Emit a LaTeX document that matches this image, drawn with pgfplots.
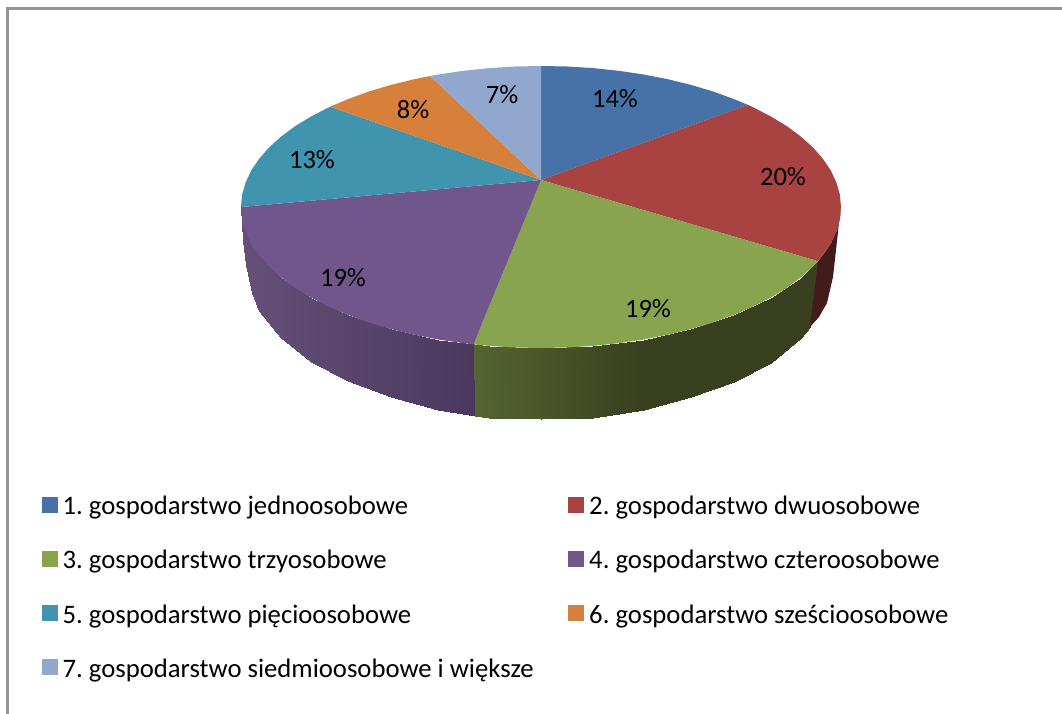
\documentclass[border=0pt]{standalone}
\usepackage{pgfplots}
\pgfplotsset{compat=1.18}
\usepackage{fontspec}
\setmainfont{Carlito}
\frenchspacing
\definecolor{c1}{HTML}{4672A8}
\definecolor{c2}{HTML}{A84342}
\definecolor{c3}{HTML}{88A44E}
\definecolor{c4}{HTML}{71568B}
\definecolor{c5}{HTML}{4094AD}
\definecolor{c6}{HTML}{D7803B}
\definecolor{c7}{HTML}{92A7CE}
\definecolor{wallred}{HTML}{421B1B}
\begin{document}
\begin{tikzpicture}
\begin{axis}[
  scale only axis, width=1062pt, height=714pt,
  xmin=0, xmax=1062, ymin=0, ymax=714, y dir=reverse,
  axis lines=none, clip=true,
  font=\fontsize{26.5}{30}\selectfont,
  colormap={wall}{rgb255(0cm)=(100,80,120); rgb255(1cm)=(75,56,94); rgb255(2cm)=(86,100,50); rgb255(3cm)=(56,64,31)},
  point meta min=0, point meta max=3,
  legend image code/.code={\fill[#1] (0pt,-5.5pt) rectangle (15pt,9.5pt); \path (18.5pt,0pt);},
  legend cell align=left,
  legend columns=2,
  legend style={at={(axis cs:41.5,492)}, anchor=north west, draw=none, fill=none,
    font=\fontsize{26.7}{30}\selectfont, row sep=30.2pt, inner xsep=0pt,
    /tikz/every even column/.style={column sep=32.5pt}},
]
% picture extent
\addplot[forget plot, draw=none] coordinates {(0,0)(1062,0)(1062,714)(0,714)};
% frame
\addplot[forget plot, draw=black!42, line width=3pt] coordinates {(7,714) (7,9) (1062,9)};
% side walls
\addplot[forget plot, patch, patch type=rectangle, shader=interp, point meta=\thisrow{c}] table[row sep=\\] {
x y c\\
241 207 0\\ 242.1 219.3 0.004\\ 243 240 0.004\\ 241 207 0\\
242.1 219.3 0.004\\ 245.6 231.5 0.02\\ 246 265 0.02\\ 243 240 0.004\\
245.6 231.5 0.02\\ 251.2 243.5 0.04\\ 252 293 0.04\\ 246 265 0.02\\
251.2 243.5 0.04\\ 259.1 255.2 0.08\\ 259 311 0.08\\ 252 293 0.04\\
259.1 255.2 0.08\\ 281.2 277.5 0.17\\ 281 338 0.17\\ 259 311 0.08\\
281.2 277.5 0.17\\ 311.2 297.6 0.30\\ 311 362 0.30\\ 281 338 0.17\\
311.2 297.6 0.30\\ 348.2 315 0.46\\ 348 381 0.46\\ 311 362 0.30\\
348.2 315 0.46\\ 391 329.1 0.64\\ 391 397 0.64\\ 348 381 0.46\\
391 329.1 0.64\\ 438.4 339.5 0.84\\ 438 409.5 0.84\\ 391 397 0.64\\
438.4 339.5 0.84\\ 473.5 344.4 1\\ 475 416 1\\ 438 409.5 0.84\\
473.5 344.4 2\\ 488.9 345.9 2.1\\ 489 417.5 2.1\\ 475 416 2\\
488.9 345.9 2.1\\ 541 348 2.4\\ 541 419 2.4\\ 489 417.5 2.1\\
541 348 2.4\\ 593.1 345.9 2.72\\ 593 417.5 2.72\\ 541 419 2.4\\
593.1 345.9 2.72\\ 643.6 339.5 3\\ 644 410 3\\ 593 417.5 2.72\\
643.6 339.5 3\\ 691 329.1 3\\ 691 397 3\\ 644 410 3\\
691 329.1 3\\ 733.8 315 3\\ 734 381.5 3\\ 691 397 3\\
733.8 315 3\\ 770.8 297.6 3\\ 771 362.5 3\\ 734 381.5 3\\
770.8 297.6 3\\ 800.8 277.5 3\\ 801 338 3\\ 771 362.5 3\\
800.8 277.5 3\\ 818 261.2 3\\ 810 327 3\\ 801 338 3\\
};
\addplot[forget plot, fill=wallred, draw=none] coordinates {(818,261.2)(822.9,255.2)(830.8,243.5)(836.4,231.5)(839.9,219.3)(841,207)(838.5,227)(836,250)(833,277)(827,303)(819,317)(810,327)};
% top faces
\addplot[forget plot, fill=c1, draw=none] coordinates {(541,180)(541,66)(567.1,66.5)(593.1,68.1)(618.6,70.8)(643.6,74.5)(667.8,79.2)(691,84.9)(713.1,91.5)(733.8,99)(747.9,104.9)};
\addplot[forget plot, fill=c2, draw=none] coordinates {(541,180)(747.9,104.9)(753.1,107.3)(770.8,116.4)(786.8,126.1)(800.8,136.5)(812.9,147.4)(822.9,158.8)(830.8,170.5)(836.4,182.5)(839.9,194.7)(841,207)(839.9,219.3)(836.4,231.5)(830.8,243.5)(822.9,255.2)(818,261.2)};
\addplot[forget plot, fill=c3, draw=none] coordinates {(541,180)(818,261.2)(812.9,266.6)(800.8,277.5)(786.8,287.9)(770.8,297.6)(753.1,306.7)(733.8,315)(713.1,322.5)(691,329.1)(667.8,334.8)(643.6,339.5)(618.6,343.2)(593.1,345.9)(567.1,347.5)(541,348)(514.9,347.5)(488.9,345.9)(473.5,344.4)};
\addplot[forget plot, fill=c4, draw=none] coordinates {(541,180)(473.5,344.4)(463.4,343.2)(438.4,339.5)(414.2,334.8)(391,329.1)(368.9,322.5)(348.2,315)(328.9,306.7)(311.2,297.6)(295.2,287.9)(281.2,277.5)(269.1,266.6)(259.1,255.2)(251.2,243.5)(245.6,231.5)(242.1,219.3)(241,207)};
\addplot[forget plot, fill=c5, draw=none] coordinates {(541,180)(241,207)(242.1,194.7)(245.6,182.5)(251.2,170.5)(259.1,158.8)(269.1,147.4)(281.2,136.5)(295.2,126.1)(311.2,116.4)(328.9,107.3)(330.1,106.7)};
\addplot[forget plot, fill=c6, draw=none] coordinates {(541,180)(330.1,106.7)(348.2,99)(368.9,91.5)(391,84.9)(414.2,79.2)(430,76)};
\addplot[forget plot, fill=c7, draw=none] coordinates {(541,180)(430,76)(438.4,74.5)(463.4,70.8)(488.9,68.1)(514.9,66.5)(541,66)};
% data labels
\node at (axis cs:615,99) {14\%};
\node at (axis cs:783,177) {20\%};
\node at (axis cs:648,309) {19\%};
\node at (axis cs:343,278) {19\%};
\node at (axis cs:312,160) {13\%};
\node at (axis cs:413,110) {8\%};
\node at (axis cs:502,95) {7\%};
% legend
\addlegendimage{c1}\addlegendentry{1. gospodarstwo jednoosobowe}
\addlegendimage{c2}\addlegendentry{2. gospodarstwo dwuosobowe}
\addlegendimage{c3}\addlegendentry{3. gospodarstwo trzyosobowe}
\addlegendimage{c4}\addlegendentry{4. gospodarstwo czteroosobowe}
\addlegendimage{c5}\addlegendentry{5. gospodarstwo pięcioosobowe}
\addlegendimage{c6}\addlegendentry{6. gospodarstwo sześcioosobowe}
\addlegendimage{c7}\addlegendentry{7. gospodarstwo siedmioosobowe i większe}
\end{axis}
\end{tikzpicture}
\end{document}
